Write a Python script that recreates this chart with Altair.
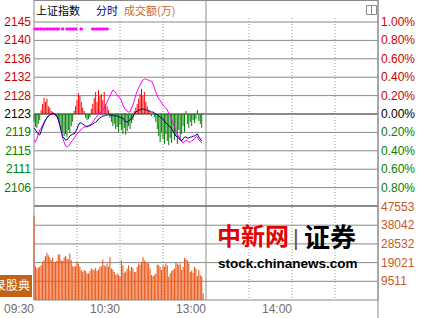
import altair as alt
import pandas as pd

PREV_CLOSE = 2123.5

# ---- data (minute index from 09:30) ----
index_line = [2120.27, 2119.81, 2119.35, 2118.88, 2118.65, 2119.58, 2120.50, 2121.42, 2122.12, 2122.58,
              2123.04, 2123.27, 2123.50, 2123.50, 2123.73, 2123.27, 2123.04, 2122.12, 2120.96, 2119.58,
              2118.19, 2117.96, 2117.50, 2117.50, 2117.96, 2118.42, 2118.65, 2118.88, 2118.88, 2119.35,
              2120.04, 2120.96, 2121.42, 2121.42, 2121.19, 2120.96, 2120.73, 2120.50, 2120.73, 2120.96,
              2120.96, 2121.19, 2121.42, 2121.65, 2121.88, 2122.35, 2122.58, 2122.81, 2123.04, 2123.04,
              2123.27, 2123.20, 2123.35, 2123.27, 2123.20, 2123.27, 2123.04, 2123.04, 2123.10, 2122.81,
              2122.81, 2122.58, 2122.58, 2122.12, 2121.65, 2121.65, 2121.88, 2122.12, 2122.58, 2122.81,
              2123.50, 2123.96, 2124.19, 2124.42, 2124.42, 2124.65, 2124.65, 2124.65, 2124.42, 2124.42,
              2124.19, 2124.19, 2123.96, 2123.96, 2123.73, 2123.50, 2123.27, 2123.04, 2122.81, 2122.58,
              2122.35, 2121.88, 2121.42, 2121.19, 2120.73, 2120.50, 2120.04, 2119.58, 2118.88, 2118.42,
              2118.19, 2117.96, 2117.50, 2117.27, 2117.73, 2118.19, 2118.19, 2117.96, 2117.96, 2118.19,
              2118.19, 2118.42, 2118.42, 2118.65, 2118.88, 2118.19, 2117.73, 2117.27]

avg_line = [2117.50, 2117.04, 2117.73, 2118.88, 2119.81, 2120.27, 2120.96, 2121.42, 2122.12, 2122.58,
            2123.04, 2123.27, 2123.50, 2123.50, 2123.50, 2123.27, 2123.04, 2122.12, 2120.96, 2119.58,
            2117.96, 2117.04, 2116.12, 2115.88, 2116.12, 2116.58, 2117.04, 2117.50, 2117.96, 2118.42,
            2118.88, 2119.35, 2119.58, 2120.04, 2120.27, 2120.50, 2120.50, 2120.73, 2120.73, 2120.73,
            2121.19, 2121.65, 2122.12, 2122.58, 2123.04, 2123.50, 2123.73, 2123.96, 2124.19, 2124.88,
            2125.58, 2126.27, 2126.96, 2127.65, 2128.35, 2129.04, 2128.81, 2128.35, 2127.89, 2127.42,
            2127.19, 2126.50, 2125.58, 2124.88, 2124.42, 2124.19, 2123.96, 2123.96, 2124.88, 2125.58,
            2126.73, 2127.89, 2128.81, 2129.50, 2130.19, 2130.89, 2131.35, 2131.58, 2131.58, 2131.35,
            2131.35, 2131.12, 2131.12, 2130.42, 2129.50, 2128.58, 2127.65, 2126.96, 2126.73, 2126.04,
            2125.58, 2125.12, 2124.88, 2124.42, 2123.73, 2123.27, 2122.35, 2121.42, 2120.50, 2119.58,
            2118.88, 2118.19, 2117.96, 2117.27, 2116.81, 2117.04, 2117.50, 2117.27, 2117.04, 2117.04,
            2117.27, 2117.50, 2117.73, 2118.19, 2118.19, 2117.50, 2117.27, 2116.81]

strength = [-1.8, -3.0, -3.2, -2.3, -1.4, 0.9, 2.3, 3.7, 2.8, 3.5,
            1.8, 1.4, 0.7, 0.5, 0.2, -0.5, -0.7, -1.2, -2.3, -3.5,
            -4.2, -5.1, -4.6, -5.3, -3.7, -4.4, -2.8, -1.8, 0.7, 1.8,
            3.2, 4.8, 4.2, 2.8, 1.4, 0.7, -0.9, -1.4, -1.2, -0.7,
            1.2, 2.3, 3.7, 5.1, 2.8, 5.5, 4.2, 4.6, 3.2, 5.1,
            2.3, 1.8, 0.9, -0.9, -1.8, -2.8, -2.3, -3.5, -3.0, -4.2,
            -2.5, -3.7, -4.6, -3.2, -4.8, -3.9, -2.8, -3.5, -2.1, -1.4,
            0.7, 1.4, 2.3, 3.5, 4.6, 5.8, 4.2, 5.1, 2.8, 1.8,
            0.9, 0.5, -0.5, 0.2, -0.7, -1.8, -3.5, -5.1, -6.5, -4.2,
            -5.8, -6.9, -4.6, -6.2, -7.2, -5.5, -6.7, -4.2, -6.0, -5.1,
            -6.9, -3.7, -5.8, -4.6, -2.8, -4.2, 0.7, -2.3, -3.2, -1.8,
            -2.8, -1.4, -2.1, -1.2, 0.9, -1.6, -2.3, -3.2]

volume = [43000, 17200, 16000, 16400, 16900, 17700, 19500, 20200, 22300, 23900,
          22800, 21500, 20200, 21600, 19400, 19400, 20000, 23100, 23100, 20200,
          19800, 21600, 22400, 21100, 20600, 23600, 20200, 17200, 16900, 17400,
          19400, 18500, 16900, 15200, 14300, 15200, 14800, 13500, 13500, 14800,
          16000, 15500, 15200, 16400, 14800, 15600, 16900, 17200, 20600, 17700,
          17000, 18600, 16900, 21900, 16000, 15400, 14300, 12700, 13500, 12700,
          11800, 20200, 17700, 13800, 14500, 16000, 17700, 14700, 16900, 16200,
          14300, 14300, 16900, 18600, 17900, 19400, 21900, 20200, 19400, 18800,
          18600, 16000, 12700, 12100, 12600, 13500, 18000, 17700, 16800, 15200,
          17700, 16900, 18600, 17500, 11800, 13500, 14700, 15300, 16000, 18900,
          18600, 17800, 18600, 15200, 16900, 21400, 20800, 20200, 18600, 14300,
          15000, 13800, 16900, 16000, 12100, 15200, 12700, 12000, 3400]

marker_minutes = [1, 3, 5, 7, 9, 11, 13, 15, 17, 20, 23, 25, 27, 29, 33, 41, 43, 45, 47, 49, 51]

pct_levels = [1.0, 0.8, 0.6, 0.4, 0.2, 0.0, -0.2, -0.4, -0.6, -0.8]
price_tick_labels = ["2145", "2140", "2136", "2132", "2128", "2123", "2119", "2115", "2111", "2106"]
pct_tick_labels = ["1.00%", "0.80%", "0.60%", "0.40%", "0.20%", "0.00%", "0.20%", "0.40%", "0.60%", "0.80%"]
vol_tick_values = [47553, 38042, 28532, 19021, 9511]
vol_tick_labels = ["47553", "38042", "28532", "19021", "9511"]
time_tick_minutes = [0, 60, 120, 180]
time_tick_labels = ["09:30", "10:30", "13:00", "14:00"]
dotted_minutes = [30, 60, 90, 150, 180, 210]
solid_minutes = [0, 120, 240]

# ---- tables ----
line_df = pd.DataFrame({"m": list(range(len(index_line))), "idx": index_line, "avg": avg_line})
str_df = pd.DataFrame({"m": list(range(len(strength))), "s": strength})
str_df["top"] = PREV_CLOSE + str_df["s"]
str_df["base"] = PREV_CLOSE
vol_df = pd.DataFrame({"m": list(range(len(volume))), "v": volume, "z": 0})
mk_df = pd.DataFrame({"m": marker_minutes})
tick_df = pd.DataFrame({
    "p": [PREV_CLOSE * (1 + k / 100) for k in pct_levels],
    "k": pct_levels,
    "lab": price_tick_labels,
    "pl": pct_tick_labels,
})
tick_df["col"] = ["#cc0000" if k > 0 else ("#000000" if k == 0 else "#008000") for k in pct_levels]
tick_df["x0"] = 0
tick_df["x1"] = 240
zero_df = tick_df[tick_df["k"] == 0].copy()
thin_df = tick_df[tick_df["k"] != 0].copy()
sep_df = pd.DataFrame({"p": [PREV_CLOSE * 0.99], "x0": [0], "x1": [240]})
vt_df = pd.DataFrame({"v": vol_tick_values, "lab": vol_tick_labels, "x0": 0, "x1": 240})
vg_df = pd.DataFrame({"v": vol_tick_values[1:] + [0], "x0": 0, "x1": 240})
time_df = pd.DataFrame({"m": time_tick_minutes, "lab": time_tick_labels})
dot_df = pd.DataFrame({"m": dotted_minutes})
sol_df = pd.DataFrame({"m": solid_minutes})

W, H = 344, 300
xs = alt.Scale(domain=[0, 240], nice=False, zero=False)
p_lo = PREV_CLOSE * (1 - 186 / 9200)
p_hi = PREV_CLOSE * (1 + 114 / 9200)
ps = alt.Scale(domain=[p_lo, p_hi], nice=False, zero=False)
v_hi = 47553 * 300 / 93.5
vs = alt.Scale(domain=[0, v_hi], nice=False, zero=False)


def X(f):
    return alt.X(f, type="quantitative", scale=xs, axis=None)


def YP(f):
    return alt.Y(f, type="quantitative", scale=ps, axis=None)


def YV(f):
    return alt.Y(f, type="quantitative", scale=vs, axis=None)


GRID = "#8a8a8a"
FONT = "Liberation Sans"
CJK = "Noto Sans CJK SC"

layers = []
# frame verticals
layers.append(alt.Chart(dot_df).mark_rule(color="#9a9a9a", strokeDash=[1, 2], strokeWidth=1).encode(
    x=X("m"), y=alt.value(18), y2=alt.value(300)))
layers.append(alt.Chart(sol_df).mark_rule(color=GRID, strokeWidth=1).encode(
    x=X("m"), y=alt.value(0), y2=alt.value(300)))
layers.append(alt.Chart(pd.DataFrame({"m": [240]})).mark_rule(color=GRID, strokeWidth=1).encode(
    x=X("m"), y=alt.value(0), y2=alt.value(318)))
layers.append(alt.Chart(pd.DataFrame({"x0": [0], "x1": [240]})).mark_rule(color=GRID, strokeWidth=1).encode(
    x=X("x0"), x2="x1:Q", y=alt.value(0.5)))

# price panel grid
layers.append(alt.Chart(thin_df).mark_rule(color=GRID, strokeWidth=1).encode(
    y=YP("p"), x=X("x0"), x2="x1:Q"))
layers.append(alt.Chart(zero_df).mark_rule(color=GRID, strokeWidth=2).encode(
    y=YP("p"), x=X("x0"), x2="x1:Q"))
layers.append(alt.Chart(sep_df).mark_rule(color=GRID, strokeWidth=2).encode(
    y=YP("p"), x=X("x0"), x2="x1:Q"))
# strength bars
layers.append(alt.Chart(str_df).mark_rule(strokeWidth=1).encode(
    x=X("m"), y=YP("top"), y2="base:Q",
    color=alt.condition("datum.s > 0", alt.value("#ff0000"), alt.value("#008000"))))
# lines
layers.append(alt.Chart(line_df).mark_line(color="#ff00ff", strokeWidth=1).encode(x=X("m"), y=YP("avg")))
layers.append(alt.Chart(line_df).mark_line(color="#000080", strokeWidth=1).encode(x=X("m"), y=YP("idx")))
# price labels
layers.append(alt.Chart(tick_df).mark_text(align="right", baseline="middle", font=FONT, fontSize=12).encode(
    y=YP("p"), x=alt.value(-3), text="lab:N", color=alt.Color("col:N", scale=None)))
layers.append(alt.Chart(tick_df).mark_text(align="left", baseline="middle", font=FONT, fontSize=12).encode(
    y=YP("p"), x=alt.value(347), text="pl:N", color=alt.Color("col:N", scale=None)))

# volume panel
layers.append(alt.Chart(vg_df).mark_rule(color=GRID, strokeWidth=1).encode(
    y=YV("v"), x=X("x0"), x2="x1:Q"))
layers.append(alt.Chart(vol_df).mark_rule(color="#ec5a1a", strokeWidth=1.1).encode(
    x=X("m"), y=YV("v"), y2="z:Q"))
layers.append(alt.Chart(vt_df).mark_text(align="left", baseline="middle", font=FONT, fontSize=12,
                                         color="#c8581e").encode(y=YV("v"), x=alt.value(347), text="lab:N"))

# time labels & markers
layers.append(alt.Chart(time_df).mark_text(align="right", baseline="middle", font=FONT, fontSize=12,
                                           color="#6e6e6e").encode(x=X("m"), y=alt.value(309), text="lab:N"))
layers.append(alt.Chart(mk_df).mark_point(shape="cross", angle=45, filled=True, size=14, color="#ff00ff",
                                          opacity=1).encode(x=X("m"), y=alt.value(29)))

one = pd.DataFrame({"a": [0]})


def label(txt, x, y, color, size=11, font=CJK, weight="normal", align="left"):
    return alt.Chart(one).mark_text(align=align, baseline="middle", font=font, fontSize=size,
                                    fontWeight=weight, color=color, text=txt).encode(
        x=alt.value(x), y=alt.value(y))


layers += [
    label("上证指数", 2, 12, "#000000"),
    label("分时", 62, 12, "#000080"),
    label("成交额(万)", 90, 12, "#cc6a1e"),
]
layers.append(alt.Chart(one).mark_rect(fill="white", stroke="#8a8a8a", strokeWidth=1).encode(
    x=alt.value(332.5), x2=alt.value(342.5), y=alt.value(5.5), y2=alt.value(14.5)))
layers.append(alt.Chart(one).mark_rule(color="#8a8a8a").encode(
    x=alt.value(337.5), y=alt.value(5.5), y2=alt.value(14.5)))

layers += [
    label("中新网", 183, 238, "#e60000", size=24, weight="bold"),
    label("|", 259, 238, "#555555", size=22, font=FONT),
    label("证券", 270, 239, "#000000", size=26, weight="bold"),
    label("stock.chinanews.com", 184, 264, "#000000", size=13.5, font=FONT, weight="bold"),
]
layers.append(alt.Chart(one).mark_rect(fill="#bf6418").encode(
    x=alt.value(-34), x2=alt.value(-2), y=alt.value(275), y2=alt.value(297)))
layers.append(label("录股典", -4, 286, "#ffffff", size=12, align="right"))

chart = alt.layer(*layers).resolve_scale(y="independent").properties(
    width=W, height=H,
    autosize=alt.AutoSizeParams(type="none"),
    padding={"left": 34, "top": 0, "right": 47, "bottom": 18},
    background="white",
).configure_view(stroke=None)

chart.save("out.html", embed_options={"renderer": "svg", "actions": False})
